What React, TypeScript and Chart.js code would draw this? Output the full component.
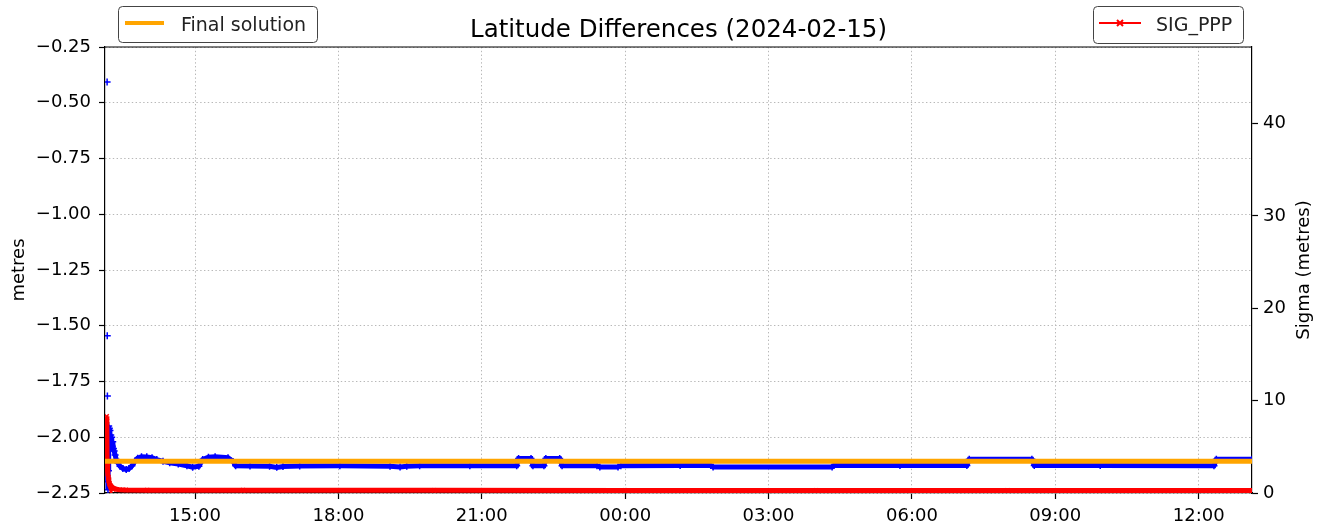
import React, { useEffect, useRef } from 'react';
import { Chart, registerables } from 'chart.js';

Chart.register(...registerables);

const FONT = '"DejaVu Sans", "Liberation Sans", sans-serif';

const TITLE = 'Latitude Differences (2024-02-15)';
const LEFT_AXIS_TITLE = 'metres';
const RIGHT_AXIS_TITLE = 'Sigma (metres)';
const FINAL_LABEL = 'Final solution';
const SIG_LABEL = 'SIG_PPP';
const LAT_LABEL = 'Latitude difference';

// time axis in hours since 2024-02-15 00:00
const X_MIN = 13.116;
const X_MAX = 37.116;
const X_TICKS = [15, 18, 21, 24, 27, 30, 33, 36];
const X_TICK_LABELS = ['15:00', '18:00', '21:00', '00:00', '03:00', '06:00', '09:00', '12:00'];

const LEFT_MIN = -2.25;
const LEFT_MAX = -0.25;
const LEFT_TICKS = [-2.25, -2.0, -1.75, -1.5, -1.25, -1.0, -0.75, -0.5, -0.25];

const RIGHT_MIN = 0;
const RIGHT_MAX = 48.3;
const RIGHT_TICKS = [0, 10, 20, 30, 40];

// Latitude differences (metres)
const LAT_T = [
  13.160, 13.163, 13.166, 13.170, 13.174, 13.178, 13.183, 13.188, 13.193, 13.199,
  13.206, 13.213, 13.220, 13.228, 13.236, 13.245, 13.255, 13.266, 13.278, 13.292,
  13.308, 13.328, 13.352, 13.385, 13.430, 13.490, 13.560, 13.620, 13.680, 13.740,
  13.800, 13.880, 13.990, 14.100, 14.200, 14.330, 14.470, 14.650, 14.830, 14.950,
  15.080, 15.160, 15.280, 15.420, 15.690, 15.800, 15.850, 16.150, 16.560, 16.710,
  16.840, 17.190, 18.030, 19.080, 19.290, 19.430, 19.700, 20.750, 21.730, 21.770,
  22.030, 22.070, 22.300, 22.340, 22.630, 22.680, 23.410, 23.470, 23.850, 23.910,
  25.150, 25.790, 25.840, 28.330, 28.370, 29.750, 31.150, 31.200, 32.510, 32.560,
  33.940, 36.320, 36.370, 37.116,
];
const LAT_V = [
  -0.407, -1.545, -1.815, -2.200, -1.960, -2.235, -1.990, -2.150, -1.950, -2.060,
  -1.960, -2.000, -1.970, -2.030, -1.990, -2.020, -2.000, -2.040, -2.020, -2.050,
  -2.062, -2.080, -2.100, -2.115, -2.130, -2.140, -2.145, -2.140, -2.128, -2.108,
  -2.094, -2.087, -2.088, -2.092, -2.100, -2.108, -2.114, -2.120, -2.128, -2.134,
  -2.130, -2.100, -2.090, -2.088, -2.092, -2.110, -2.128, -2.129, -2.130, -2.135,
  -2.131, -2.129, -2.128, -2.130, -2.133, -2.130, -2.128, -2.128, -2.128, -2.095,
  -2.095, -2.128, -2.128, -2.095, -2.095, -2.128, -2.128, -2.133, -2.133, -2.128,
  -2.127, -2.127, -2.133, -2.133, -2.127, -2.127, -2.127, -2.099, -2.099, -2.127,
  -2.127, -2.128, -2.099, -2.099,
];

// Final solution (metres)
const FINAL_T = [13.116, 37.116];
const FINAL_V = [-2.108, -2.108];

// SIG_PPP sigma (metres)
const SIG_T = [
  13.150, 13.155, 13.160, 13.168, 13.176, 13.185, 13.195, 13.207, 13.220, 13.236,
  13.255, 13.280, 13.310, 13.350, 13.420, 13.550, 14.000, 16.000, 20.000, 24.000,
  28.000, 32.000, 37.116,
];
const SIG_V = [
  8.3, 7.8, 3.4, 2.7, 2.1, 1.7, 1.35, 1.05, 0.85, 0.72,
  0.62, 0.52, 0.46, 0.40, 0.36, 0.33, 0.31, 0.30, 0.29, 0.28,
  0.28, 0.27, 0.27,
];

const toPoints = (t: number[], v: number[]) => t.map((x, i) => ({ x, y: v[i] }));

const overlayPlugin = {
  id: 'overlay',
  afterDraw(chart: any) {
    const { ctx, chartArea: a } = chart;
    ctx.save();
    // top spine
    ctx.strokeStyle = '#000';
    ctx.lineWidth = 1.2;
    ctx.beginPath();
    ctx.moveTo(a.left, a.top);
    ctx.lineTo(a.right, a.top);
    ctx.stroke();

    // axis titles
    const midY = (a.top + a.bottom) / 2;
    ctx.fillStyle = '#000';
    ctx.font = `18px ${FONT}`;
    ctx.textAlign = 'center';
    ctx.textBaseline = 'middle';
    ctx.save();
    ctx.translate(19, midY);
    ctx.rotate(-Math.PI / 2);
    ctx.fillText(LEFT_AXIS_TITLE, 0, 0);
    ctx.restore();
    ctx.save();
    ctx.translate(1304, midY);
    ctx.rotate(-Math.PI / 2);
    ctx.fillText(RIGHT_AXIS_TITLE, 0, 0);
    ctx.restore();

    // legends
    const drawBox = (x: number, y: number, w: number, h: number) => {
      ctx.beginPath();
      ctx.roundRect(x + 0.5, y + 0.5, w, h, 4);
      ctx.fillStyle = 'rgba(255,255,255,0.8)';
      ctx.fill();
      ctx.strokeStyle = '#444';
      ctx.lineWidth = 1;
      ctx.stroke();
    };
    ctx.font = `19px ${FONT}`;
    ctx.textAlign = 'left';
    ctx.textBaseline = 'alphabetic';

    drawBox(118, 6, 199, 36);
    ctx.strokeStyle = '#FFA500';
    ctx.lineWidth = 4;
    ctx.beginPath();
    ctx.moveTo(125, 23);
    ctx.lineTo(164, 23);
    ctx.stroke();
    ctx.fillStyle = '#222';
    ctx.fillText(FINAL_LABEL, 181, 30.5);

    drawBox(1093, 6, 150, 37);
    ctx.strokeStyle = '#FF0000';
    ctx.lineWidth = 2;
    ctx.beginPath();
    ctx.moveTo(1099, 23);
    ctx.lineTo(1141, 23);
    ctx.moveTo(1117, 20);
    ctx.lineTo(1123, 26);
    ctx.moveTo(1123, 20);
    ctx.lineTo(1117, 26);
    ctx.stroke();
    ctx.fillStyle = '#222';
    ctx.fillText(SIG_LABEL, 1156, 30.5);

    ctx.restore();
  },
};

export default function App() {
  const ref = useRef<HTMLCanvasElement | null>(null);

  useEffect(() => {
    document.body.style.margin = '0';
    const canvas = ref.current;
    if (!canvas) return;

    const gridCommon = {
      color: '#b8b8b8',
      lineWidth: 1,
      tickColor: '#000',
      tickLength: 6,
      tickWidth: 1.2,
      tickBorderDash: [],
    };
    const borderCommon = { color: '#000', width: 1.2, dash: [1.4, 2.4] };
    const tickFont = { family: FONT, size: 18 };

    const chart = new Chart(canvas, {
      type: 'line',
      data: {
        datasets: [
          {
            label: FINAL_LABEL,
            data: toPoints(FINAL_T, FINAL_V),
            yAxisID: 'y',
            borderColor: '#FFA500',
            backgroundColor: '#FFA500',
            borderWidth: 5,
            pointRadius: 0,
          },
          {
            label: SIG_LABEL,
            data: toPoints(SIG_T, SIG_V),
            yAxisID: 'y1',
            borderColor: '#FF0000',
            backgroundColor: '#FF0000',
            borderWidth: 5,
            pointStyle: 'crossRot',
            pointRadius: 3,
            pointBorderWidth: 1.5,
          },
          {
            label: LAT_LABEL,
            data: toPoints(LAT_T, LAT_V),
            yAxisID: 'y',
            borderColor: '#0000FF',
            backgroundColor: '#0000FF',
            borderWidth: 5,
            pointStyle: 'cross',
            pointRadius: 3.5,
            pointBorderWidth: 1.5,
            segment: {
              borderColor: (c: any) =>
                Math.abs(c.p0.parsed.y - c.p1.parsed.y) > 0.25 ? 'rgba(0,0,0,0)' : undefined,
            },
          },
        ],
      },
      options: {
        responsive: false,
        animation: false,
        devicePixelRatio: 1,
        parsing: false,
        layout: { padding: 0 },
        plugins: {
          legend: { display: false },
          tooltip: { enabled: false },
          title: {
            display: true,
            text: TITLE,
            fullSize: false,
            color: '#000',
            font: { family: FONT, size: 24.5, weight: 'normal' },
            padding: { top: 16, bottom: 1.6 },
          },
        },
        scales: {
          x: {
            type: 'linear',
            min: X_MIN,
            max: X_MAX,
            afterBuildTicks: (s: any) => {
              s.ticks = X_TICKS.map((value) => ({ value }));
            },
            afterFit: (s: any) => {
              s.height = 38;
            },
            ticks: {
              autoSkip: false,
              maxRotation: 0,
              color: '#000',
              padding: 7,
              font: tickFont,
              callback: (v: any) => {
                const i = X_TICKS.indexOf(Number(v));
                return i >= 0 ? X_TICK_LABELS[i] : '';
              },
            },
            grid: gridCommon,
            border: borderCommon,
          },
          y: {
            type: 'linear',
            position: 'left',
            min: LEFT_MIN,
            max: LEFT_MAX,
            afterBuildTicks: (s: any) => {
              s.ticks = LEFT_TICKS.map((value) => ({ value }));
            },
            afterFit: (s: any) => {
              s.width = 105;
            },
            ticks: {
              color: '#000',
              padding: 8,
              font: tickFont,
              callback: (v: any) => Number(v).toFixed(2).replace('-', '\u2212'),
            },
            grid: gridCommon,
            border: borderCommon,
          },
          y1: {
            type: 'linear',
            position: 'right',
            min: RIGHT_MIN,
            max: RIGHT_MAX,
            afterBuildTicks: (s: any) => {
              s.ticks = RIGHT_TICKS.map((value) => ({ value }));
            },
            afterFit: (s: any) => {
              s.width = 75;
            },
            ticks: {
              color: '#000',
              padding: 5,
              font: tickFont,
              callback: (v: any) => String(v),
            },
            grid: { ...gridCommon, drawOnChartArea: false },
            border: borderCommon,
          },
        },
      },
      plugins: [overlayPlugin],
    } as any);

    return () => chart.destroy();
  }, []);

  return (
    <div style={{ width: 1327, height: 531 }}>
      <canvas ref={ref} width={1327} height={531} style={{ display: 'block' }} />
    </div>
  );
}
